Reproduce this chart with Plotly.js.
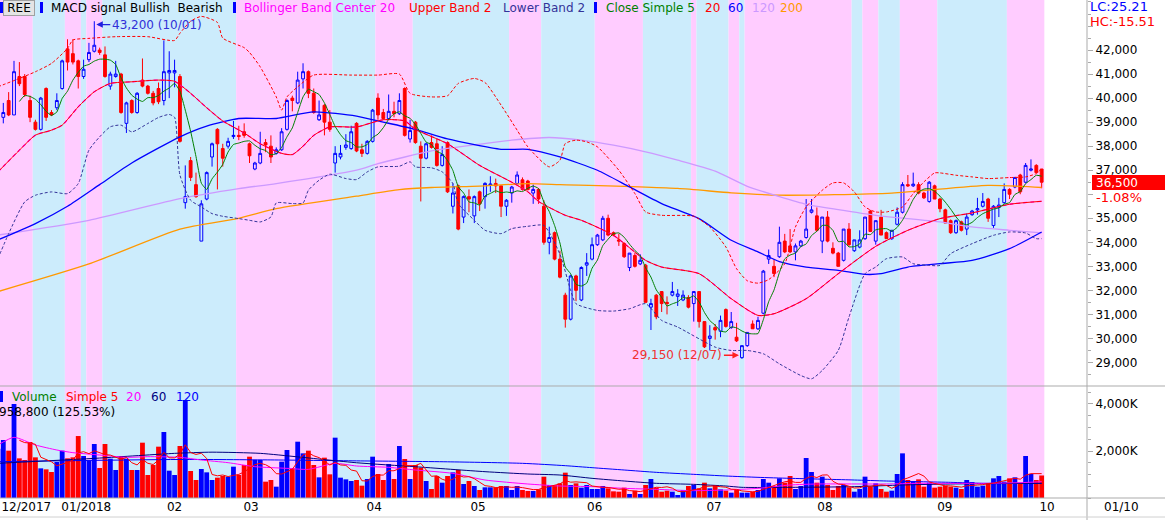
<!DOCTYPE html>
<html><head><meta charset="utf-8">
<script src="https://cdn.plot.ly/plotly-3.0.1.min.js"></script>
<style>html,body{margin:0;padding:0;background:#fff;}#chart{width:1165px;height:520px;}</style>
</head><body><div id="chart"></div>
<script>
// ---------- DATA (trading-day index -1 .. 194) ----------
const firstDay = -1;
const openP = [37800,
39200,39900,39300,40900,40900,39900,39000,38700,40400,39400,
39600,40400,42050,41850,41550,40900,41600,41950,42000,41800,
40500,40900,41000,38950,39900,39400,40750,40500,40200,40400,
39900,41050,41050,40900,35650,37400,36400,34050,35800,37550,
38700,37900,38000,38400,38450,38600,38100,37050,37300,38150,
38000,37700,37850,38700,40000,39800,40800,41100,40200,39100,
39700,39000,37300,37550,37950,37900,38950,37850,37700,38200,
40000,39400,39150,39450,39350,40400,38300,39000,38000,37500,
38150,38100,37200,38150,35500,36350,35050,35900,35100,36100,
35900,36380,36450,36350,35500,36050,36450,36600,36550,36050,
36200,35500,34000,34400,33300,31800,30800,32600,31600,33050,
33300,33900,34100,35000,34400,34100,33950,32950,33450,33100,
33050,31300,31800,31950,31500,31800,31750,31600,31700,31450,
31950,30700,30000,30450,30300,31200,30450,30050,29200,29700,
30600,30400,31050,33300,33000,33400,34050,33850,33600,33850,
34200,35250,35100,34050,35050,33750,33550,33250,34550,33650,
33800,34150,35300,34050,35050,34400,34150,34750,35250,36400,
36350,36400,36050,35700,36350,35800,35350,34900,34400,34850,
34550,35150,35350,35500,35800,34700,35450,35650,36200,36300,
36800,36500,37000,37200,37050];
const highP = [39100,
39800,40250,41550,41500,41000,40100,39100,40050,40450,39500,
40200,41600,42450,42450,41600,41600,42300,43200,42100,42150,
41100,41550,41050,39850,39950,40250,41650,40550,40300,40650,
42400,41950,41600,41000,37200,37550,36900,35750,36950,38150,
38750,38100,38350,39050,38850,38950,38150,37350,38600,38300,
38450,37950,38750,39950,40100,41100,41450,41150,40400,39900,
39750,39500,38000,38050,38500,38850,39000,38100,38250,39550,
40200,39550,40150,39850,40200,40450,39100,39050,38200,38150,
38450,38300,38000,38200,36450,36400,35950,36200,35950,36150,
36500,36750,36650,36350,35800,36350,36950,36700,36600,36400,
36250,35750,34650,34450,33650,31900,32650,32650,33000,33550,
34200,34350,35100,35150,34450,34350,34000,33550,33550,33500,
33100,31650,31850,31950,31750,32350,32050,32000,31800,31950,
31950,30700,30550,30600,30950,31250,31100,30650,29700,30250,
30750,30900,32850,33700,33300,34650,34350,34550,33950,34100,
35800,35800,35450,35050,35300,34000,33600,34550,34800,34100,
34500,35050,35350,34900,35350,34450,34500,35450,36500,36800,
36900,36500,36100,36550,36400,35850,35400,34950,34950,34900,
35200,35350,35850,36050,35850,35550,35850,36450,36250,36700,
36850,37300,37450,37250,37050];
const lowP = [37600,
38950,39250,39300,40500,40050,39000,38650,38650,39050,39250,
39500,40350,41150,41400,40400,40800,41500,41900,41800,40850,
40350,40850,39350,38550,39350,39350,40450,40150,39700,39750,
39700,40000,40450,38150,35400,36550,35850,34050,35750,37150,
36200,37150,37900,38300,38250,38350,37300,37000,37250,37750,
37300,37650,37800,38650,39450,39750,40400,40000,39350,39050,
38450,38600,36900,37450,37850,37850,37750,37550,37650,38150,
39100,39100,39100,39200,39300,38400,38150,38100,35700,37450,
37900,37150,37150,36050,35200,34500,34800,35250,34800,35300,
35400,36100,36050,35050,35100,35650,36400,36150,36150,35600,
35600,33900,33500,33250,32500,30450,30750,31550,31550,32600,
33250,33850,34050,34250,34250,33850,33350,32800,32950,33050,
31500,30350,30800,31100,31000,31750,31350,31550,31250,30700,
30450,29600,29500,29950,30050,30450,30400,29850,29150,29650,
30400,30350,31000,33100,32550,33350,33550,33550,33250,33800,
34150,35200,34450,33550,34000,33500,33000,33200,33850,33600,
33750,34100,34450,33900,34300,34150,34100,34700,35200,36300,
36300,36000,35800,35650,35800,35250,34800,34350,34350,34450,
34300,35100,35150,35450,34850,34600,35050,35600,35800,36250,
36000,36450,36950,36900,36250];
const closeP = [38900,
39400,39300,41100,40600,40150,39200,38700,40000,39200,39300,
39900,41550,41500,41500,40900,41200,41900,42200,41900,40900,
41000,41000,39400,39800,39400,40200,40500,40200,39800,39850,
41100,41150,41150,38200,35900,36700,35900,35600,36900,38100,
38100,37500,38200,38450,38400,38450,37600,37300,37700,38050,
37550,37850,38600,39900,39900,40750,41100,40200,39400,39300,
39000,38700,37700,37700,38050,38600,37800,37700,38200,39500,
39300,39150,39450,39350,39900,38450,38650,38150,37500,38100,
37950,37200,37650,36100,36050,34550,35900,35800,35900,35600,
36450,36420,36350,35500,35750,36300,36800,36200,36200,36200,
35800,34000,34200,33300,32550,30800,32600,32000,32950,33150,
33900,34300,35000,34300,34300,34050,33400,33550,33000,33250,
31500,31450,30900,31450,31450,31950,31850,31800,31300,31950,
30700,29650,30100,30350,30750,30500,30700,29900,29700,30250,
30400,30750,32800,33450,32700,34000,33600,33600,33850,34050,
34550,35350,34500,35050,34050,33550,33000,34550,33900,34100,
34100,35050,34450,34900,34300,34150,34500,35250,36400,36350,
36420,36050,35850,36500,35800,35400,34800,34400,34900,34500,
35050,35300,35400,35700,35000,35500,35550,36200,36000,36700,
36100,37200,37050,36900,36500];
// volume in thousands of shares
const volumeK = [2100,
2467,2014,3999,1687,1617,2382,1730,1262,1219,1106,
1531,2014,1687,1730,2637,1787,1588,2297,1276,2297,
1673,1191,1787,1673,1191,1191,2354,978,1404,2184,
2808,1163,978,2212,4169,1149,766,1234,1092,766,
865,936,907,1333,978,1404,1758,1617,1617,695,
766,482,1546,2042,1262,2396,1900,2014,1404,879,
1716,1007,2567,865,794,723,766,525,808,1758,
1021,766,1446,808,2212,1659,808,1404,1290,723,
383,936,652,936,1092,1191,596,723,510,340,
454,454,454,510,510,340,510,340,298,298,
369,907,553,553,624,1078,553,624,440,553,
383,383,510,411,284,269,440,170,312,170,
553,808,440,269,312,269,128,340,510,553,
411,652,411,553,369,312,227,369,227,227,
269,340,808,652,510,837,652,936,383,510,
1702,1106,652,908,553,340,510,553,454,269,
383,908,482,624,383,269,312,1021,1900,766,
723,794,482,652,440,482,525,482,440,383,
766,681,482,525,624,837,936,695,837,879,
652,1787,1021,764,958.8];

// indicator lines (day index, value)
const sma20Idx = [-1,3,6,9,11,14,17,20,24,29,32,35,38,41,45,48,52,54,56,58,61,66,71,75,77,83,89,95,98,100,105,108,114,120,123,130,136,141,144,150,156,163,169,175,181,188,194];
const sma20Val = [36930,37833,38458,38666,38875,39638,40264,40611,40680,40750,40700,40200,39600,39050,38550,38100,37700,37650,38000,38450,38800,38800,39100,39050,38700,38100,37200,36500,36100,35700,35124,34916,34291,33249,32971,32694,31652,30958,31027,31652,32694,33832,34499,34985,35221,35583,35707];
const upperIdx = [-1,3,6,9,12,13,16,21,27,32,33,35,37,40,41,45,46,48,51,52,53,55,58,65,70,74,76,80,83,85,88,90,93,96,98,102,104,105,107,109,111,115,118,120,123,129,132,135,137,139,141,143,146,148,150,153,155,157,159,161,163,165,168,170,172,174,175,178,181,184,188,191,193,194];
const upperVal = [40472,40819,41097,41444,42069,42417,42486,42556,42556,42400,42700,43200,43400,43150,42500,42100,41900,41300,40050,39500,40050,40470,40958,40958,40958,41000,40200,40050,40100,40611,40819,40650,39708,38666,37972,37139,37416,38111,38250,38180,37972,36999,36027,35263,35124,35083,34638,33805,32900,32400,32300,32450,33110,34638,35471,36166,36471,36471,36097,35471,35263,35263,35471,36027,36513,36888,36888,36791,36722,36652,36694,36722,36860,37069];
const lowerIdx = [-1,1,4,6,9,12,14,16,18,20,22,24,27,29,31,32,33,35,37,39,41,44,46,48,50,51,54,56,57,59,61,64,66,68,70,74,76,77,80,82,84,85,88,90,93,95,98,101,104,106,107,111,114,117,120,123,126,133,136,139,142,145,149,151,153,156,158,161,163,165,168,170,173,175,177,181,185,188,191,193,194];
const lowerVal = [33319,34361,35680,35958,36097,36027,36444,37833,38388,38805,38875,38597,38944,39194,39319,39200,36800,35750,35472,35194,35083,34986,34916,34847,35055,35638,35611,35638,36166,36583,36833,36653,36611,36930,37139,37166,37347,37139,37100,36930,36444,35611,34916,34500,34361,34569,34666,34700,33500,32000,31444,31166,31138,31235,31444,30749,30472,29638,29499,29499,29361,28943,28457,28318,28665,29499,30888,32694,32971,33318,33388,33110,33040,33040,33527,33943,34291,34430,34388,34152,34152];
const sma60Idx = [-1,6,12,18,24,33,38,44,51,58,66,70,77,83,93,98,104,111,117,123,130,136,141,145,150,156,161,164,169,175,181,188,194];
const sma60Val = [34100,34780,35500,36400,37300,38388,38833,39152,39152,39430,39250,39050,38700,38300,37870,37870,37550,36999,36305,35611,34985,34083,33600,33200,32971,32832,32666,32693,32971,33110,33249,33735,34430];
const sma120Idx = [-1,16,33,44,51,66,70,80,89,95,102,108,114,120,126,133,139,145,150,156,163,169,175,181,188,194];
const sma120Val = [34300,34916,35819,36236,36444,37000,37270,37800,38080,38250,38361,38250,38041,37764,37416,36960,36330,35900,35583,35360,35124,34985,34846,34638,34499,34388];
const sma200Idx = [-1,16,33,44,51,66,74,80,89,98,104,126,136,145,166,184,194];
const sma200Val = [31950,33100,34550,35000,35400,35920,36190,36280,36340,36440,36400,36240,36060,35960,36050,36370,36280];
// volume moving averages (thousands)
const vma20Idx = [-1,2,6,10,13,18,23,27,33,37,42,47,53,57,62,66,72,77,84,90,98,104,110,116,122,129,135,141,147,152,165,171,183,190,194];
const vma20Val = [2255,2581,2255,2042,1929,1829,1730,1758,1730,1617,1503,1333,1262,1219,1475,1361,1305,1191,1049,766,596,510,482,411,369,312,340,411,553,596,596,624,624,652,695];
const vma60Idx = [-1,18,32,39,48,55,66,77,90,98,104,110,116,122,129,135,138,147,159,168,177,194];
const vma60Val = [1475,1700,1900,1950,1900,1750,1500,1330,1120,1021,978,837,723,624,581,510,454,454,482,553,596,624];
const vma120Idx = [-1,33,50,66,83,97,105,110,116,122,129,135,141,147,159,165,177,183,194];
const vma120Val = [1546,1640,1620,1580,1540,1475,1375,1290,1191,1092,1007,936,879,837,766,723,666,624,624];

// MACD signal regimes: first day of each regime
const macdStartIdx = [-1,6,12,15,16,19,44,62,70,77,95,101,111,120,129,130,136,138,139,159,161,164,168,175,188];
const macdState = ['Bullish','Bearish','Bullish','Bearish','Bullish','Bearish','Bullish','Bearish','Bullish','Bearish','Bullish','Bearish','Bullish','Bearish','Bullish','Bearish','Bullish','Bearish','Bullish','Bearish','Bullish','Bearish','Bullish','Bearish','Bullish'];

// month labels (day index where the label sits)
const monthIdx = [4.3,15.5,32,46.3,69.3,88.7,110.5,132.8,153.5,175.9,195];
const monthText = ['12/2017','01/2018','02','03','04','05','06','07','08','09','10'];
// price axis labels (hidden ones are covered in the original by the HC text and the price flag)
const priceTicks = [29000,30000,31000,32000,33000,34000,35000,36000,37000,38000,39000,40000,41000,42000,43000];
const hiddenPriceLabels = [36000,43000];

// ---------- BUILD ----------
const n = openP.length;
const dayIdx = openP.map((_, k) => firstDay + k);
const lastDay = dayIdx[n - 1];
const volume = volumeK.map(v => v * 1000);
function trailingMean(vals, len) {
  return vals.map((v, k) => k < len - 1 ? null : vals.slice(k - len + 1, k + 1).reduce((a, b) => a + b, 0) / len);
}
const sma5 = trailingMean(closeP, 5);
const vma5 = trailingMean(volume, 5);
const volColors = closeP.map((c, k) => c >= openP[k] ? '#0000ff' : '#ff0000');

const W = 1087, H = 498;
const px = x => x / W;
const py = y => (H - y) / H;
const FONT = 'DejaVu Sans, Verdana, sans-serif';

function line(x, y, color, opts) {
  return Object.assign({type: 'scatter', mode: 'lines', x: x, y: y, hoverinfo: 'skip', showlegend: false,
    line: Object.assign({color: color, width: 1}, (opts && opts.line) || {})}, (opts && opts.extra) || {});
}
const spl = {shape: 'spline', smoothing: 0.6};

const traces = [
  line(sma200Idx, sma200Val, '#ff9900', {line: Object.assign({width: 1.3}, spl)}),
  line(sma120Idx, sma120Val, '#cc99ff', {line: Object.assign({width: 1.3}, spl)}),
  line(sma60Idx, sma60Val, '#0000ff', {line: Object.assign({width: 1.3}, spl)}),
  line(upperIdx, upperVal, '#ff0000', {line: Object.assign({dash: '3px,2px'}, spl)}),
  line(lowerIdx, lowerVal, '#333399', {line: Object.assign({dash: '3px,2px'}, spl)}),
  line(sma20Idx, sma20Val, '#ff00ff', {line: Object.assign({dash: '4px,3px', width: 1.3}, spl)}),
  line(sma20Idx, sma20Val, '#ff0000', {line: spl}),
  line(dayIdx, sma5, '#008000', {line: {shape: 'spline', smoothing: 0.4}}),
  {type: 'candlestick', x: dayIdx, open: openP, high: highP, low: lowP, close: closeP,
   increasing: {line: {color: '#0000ff', width: 1}, fillcolor: 'rgba(0,0,0,0)'},
   decreasing: {line: {color: '#ff0000', width: 1}, fillcolor: '#ff0000'},
   whiskerwidth: 0, hoverinfo: 'skip', showlegend: false, xaxis: 'x', yaxis: 'y'},
  {type: 'bar', x: dayIdx, y: volume, width: 0.9, marker: {color: volColors, line: {width: 0}},
   hoverinfo: 'skip', showlegend: false, xaxis: 'x', yaxis: 'y2'},
  line(vma120Idx, vma120Val.map(v => v * 1000), '#0000ff', {line: spl, extra: {yaxis: 'y2'}}),
  line(vma60Idx, vma60Val.map(v => v * 1000), '#000080', {line: spl, extra: {yaxis: 'y2'}}),
  line(vma20Idx, vma20Val.map(v => v * 1000), '#ff00ff', {line: spl, extra: {yaxis: 'y2'}}),
  line(dayIdx, vma5, '#ff0000', {extra: {yaxis: 'y2'}})
];

const shapes = [];
macdStartIdx.forEach((s, k) => {
  const e = k + 1 < macdStartIdx.length ? macdStartIdx[k + 1] - 0.5 : lastDay + 0.5;
  shapes.push({type: 'rect', xref: 'x', yref: 'paper', x0: s - 0.5, x1: e, y0: 0, y1: 1,
    fillcolor: macdState[k] === 'Bullish' ? '#ffccff' : '#ccecfc', line: {width: 0}, layer: 'below'});
});
const gray = '#ababab';
const XR = 1165 / W;
shapes.push({type: 'line', xref: 'paper', yref: 'paper', x0: 0, x1: XR, y0: py(386), y1: py(386), line: {color: gray, width: 1}});
shapes.push({type: 'line', xref: 'paper', yref: 'paper', x0: 0, x1: XR, y0: py(498), y1: py(498), line: {color: gray, width: 1}});
shapes.push({type: 'line', xref: 'paper', yref: 'paper', x0: 1, x1: 1, y0: py(0), y1: py(520), line: {color: gray, width: 1}});
shapes.push({type: 'line', xref: 'paper', yref: 'paper', x0: 0, x1: XR, y0: py(517), y1: py(517), line: {color: '#d0d0d0', width: 1}});
// blue legend markers
[[0, 2], [40, 2], [233, 2], [594, 2], [0, 391]].forEach(([x, y]) => {
  shapes.push({type: 'rect', xref: 'paper', yref: 'paper', x0: px(x), x1: px(x + 3), y0: py(y), y1: py(y + 11),
    fillcolor: '#0000ff', line: {width: 0}});
});
// current price flag
shapes.push({type: 'rect', xref: 'paper', yref: 'paper', x0: px(1092), x1: XR, y0: py(190), y1: py(175),
  fillcolor: '#ff0000', line: {width: 0}});

function txt(x, y, text, color, extra) {
  return Object.assign({xref: 'paper', yref: 'paper', x: px(x), y: py(y), xanchor: 'left', yanchor: 'middle',
    text: text, showarrow: false, font: {family: FONT, size: 12, color: color}}, extra || {});
}
const annotations = [
  txt(3, 8, 'REE', '#000', {bgcolor: '#e4e4e4', bordercolor: '#a0a0a0', borderwidth: 1, borderpad: 1, width: 28, height: 12}),
  txt(49, 8, 'MACD signal Bullish&nbsp;&nbsp;Bearish', '#000'),
  txt(242, 8, 'Bollinger Band Center 20', '#ff00ff'),
  txt(407, 8, 'Upper Band 2', '#ff0000'),
  txt(501, 8, 'Lower Band 2', '#333399'),
  txt(604, 8, 'Close Simple 5', '#008000'),
  txt(703, 8, '20', '#ff0000'),
  txt(726, 8, '60', '#0000ff'),
  txt(750, 8, '120', '#cc99ff'),
  txt(778, 8, '200', '#ff9900'),
  txt(10, 397, 'Volume', '#008000'),
  txt(64, 397, 'Simple 5', '#ff0000'),
  txt(124, 397, '20', '#ff00ff'),
  txt(149, 397, '60', '#000080'),
  txt(174, 397, '120', '#0000ff'),
  txt(-3, 412, '958,800 (125.53%)', '#000'),
  txt(1088, 7, 'LC:25.21', '#0000ff', {font: {family: FONT, size: 13, color: '#0000ff'}}),
  txt(1088, 22, 'HC:-15.51', '#ff0000', {font: {family: FONT, size: 13, color: '#ff0000'}}),
  txt(1094, 183, '36,500', '#ffffff', {font: {family: FONT, size: 12, color: '#ffffff'}}),
  txt(1094, 198, '-1.08%', '#ff0000', {font: {family: FONT, size: 13, color: '#ff0000'}}),
  txt(1102, 507, '01/10', '#000'),
  {xref: 'x', yref: 'y', x: 17, y: 43060, ax: 16, ay: 0, xanchor: 'left', yanchor: 'middle', text: '43,200 (10/01)',
   showarrow: true, arrowhead: 2, arrowsize: 1, arrowwidth: 1.3, arrowcolor: '#2020e0', standoff: 2,
   font: {family: FONT, size: 12, color: '#3030d8'}},
  {xref: 'x', yref: 'y', x: 138, y: 29300, ax: -18, ay: 0, xanchor: 'right', yanchor: 'middle', text: '29,150 (12/07)',
   showarrow: true, arrowhead: 2, arrowsize: 1, arrowwidth: 1.3, arrowcolor: '#ff2020', standoff: 3,
   font: {family: FONT, size: 12, color: '#f03030'}}
];

const layout = {
  width: 1165, height: 520, margin: {l: 0, r: 78, t: 0, b: 22},
  paper_bgcolor: '#ffffff', plot_bgcolor: '#ffffff', showlegend: false, boxgap: 0.25,
  font: {family: FONT, size: 12, color: '#000'},
  xaxis: {range: [-0.617, 202.47], anchor: 'y2', showgrid: false, zeroline: false, showline: false,
    tickmode: 'array', tickvals: monthIdx, ticktext: monthText, ticks: '', fixedrange: true, ticklabeloverflow: 'allow',
    tickfont: {family: FONT, size: 12, color: '#000'}, rangeslider: {visible: false}},
  yaxis: {domain: [py(386), 1], range: [28020, 44083], side: 'right', anchor: 'x', showgrid: false, zeroline: false,
    showline: false, ticks: 'outside', ticklen: 5, tickcolor: gray, tickmode: 'array', tickvals: priceTicks,
    ticktext: priceTicks.map(v => hiddenPriceLabels.includes(v) ? '' : v.toLocaleString('en-US')),
    minor: {tickmode: 'linear', tick0: 0, dtick: 500, ticks: 'outside', ticklen: 3, tickcolor: gray},
    tickfont: {family: FONT, size: 12, color: '#000'}, fixedrange: true},
  yaxis2: {domain: [0, py(387)], range: [0, 4723000], side: 'right', anchor: 'x', showgrid: false, zeroline: false,
    showline: false, ticks: 'outside', ticklen: 5, tickcolor: gray, tickmode: 'array', tickvals: [2000000, 4000000],
    ticktext: ['2,000K', '4,000K'], minor: {tickmode: 'linear', tick0: 0, dtick: 500000, ticks: 'outside', ticklen: 3, tickcolor: gray},
    tickfont: {family: FONT, size: 12, color: '#000'}, fixedrange: true},
  shapes: shapes, annotations: annotations
};
Plotly.newPlot('chart', traces, layout, {staticPlot: true, displayModeBar: false});
</script></body></html>
